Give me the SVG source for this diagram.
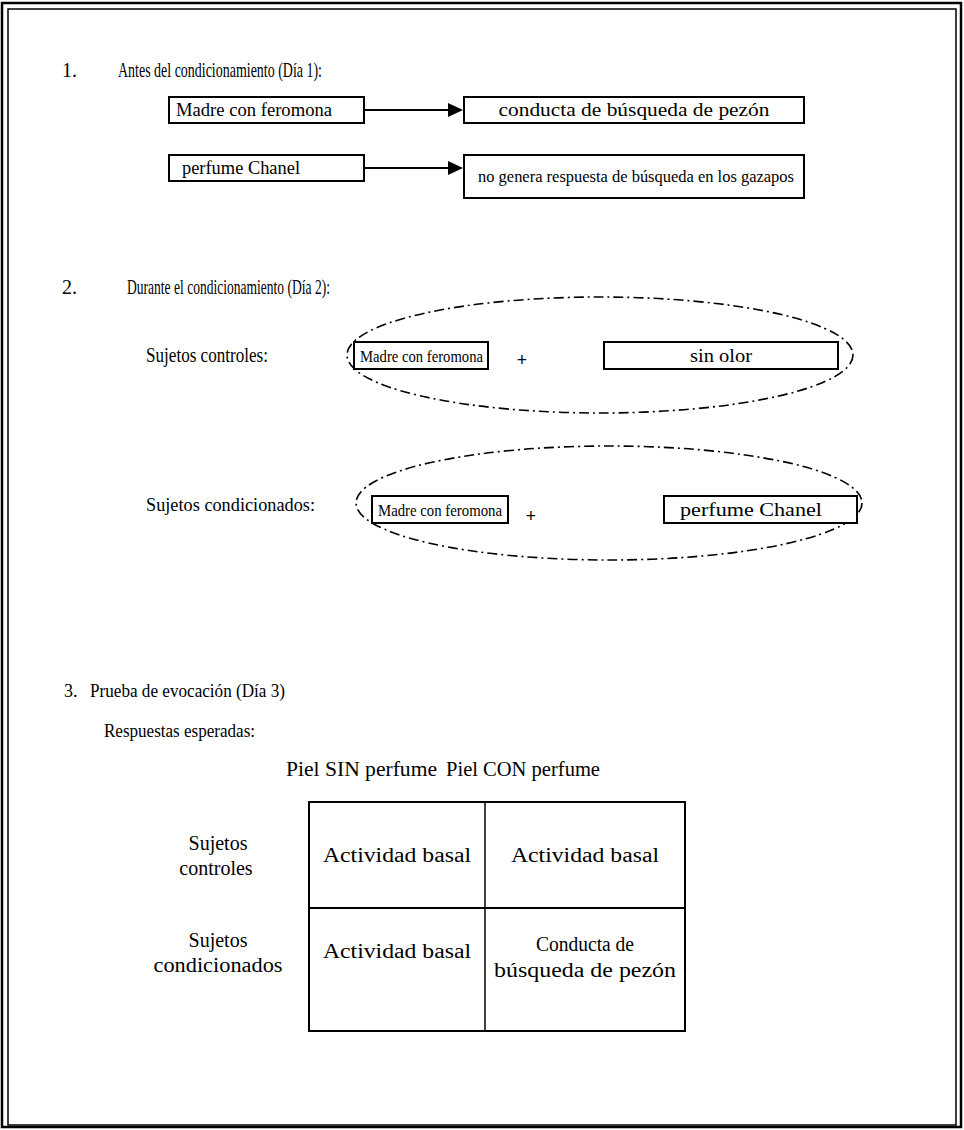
<svg xmlns="http://www.w3.org/2000/svg" width="964" height="1130" viewBox="0 0 964 1130">
<style>
text{font-family:"Liberation Serif","Times New Roman",serif;fill:#000;}
.h{font-size:18px;}
.t{font-size:20px;}
.tt{font-size:22px;}
.b{font-size:18px;}
.box{fill:#fff;stroke:#000;stroke-width:2;}
.ell{fill:none;stroke:#000;stroke-width:1.6;stroke-dasharray:10 4 2 4;}
.ln{stroke:#000;stroke-width:2;fill:none;}
.c{text-anchor:middle;}
.plus{font-size:18px;font-weight:bold;text-anchor:middle;}
</style>
<rect x="0" y="0" width="964" height="1130" fill="#fff"/>
<g id="frame">
<rect x="2" y="3" width="959" height="1124" fill="none" stroke="#000" stroke-width="2.5"/>
<rect x="8" y="9" width="948" height="1116" fill="none" stroke="#000" stroke-width="1.5"/>
</g>
<g id="titles">
<text class="t" x="62" y="77">1.</text>
<text class="tt" x="118" y="77" textLength="204" lengthAdjust="spacingAndGlyphs">Antes del condicionamiento (Día 1):</text>
<text class="t" x="62" y="294">2.</text>
<text class="tt" x="127" y="294" textLength="203" lengthAdjust="spacingAndGlyphs">Durante el condicionamiento (Día 2):</text>
<text class="t" x="146" y="362" textLength="122" lengthAdjust="spacingAndGlyphs">Sujetos controles:</text>
<text class="h" x="146" y="511" textLength="169" lengthAdjust="spacingAndGlyphs">Sujetos condicionados:</text>
<text class="h" x="64" y="697">3.</text>
<text class="h" x="90" y="697" textLength="195" lengthAdjust="spacingAndGlyphs">Prueba de evocación (Día 3)</text>
<text class="h" x="104" y="737" textLength="151" lengthAdjust="spacingAndGlyphs">Respuestas esperadas:</text>
</g>
<g id="connectors">
<line class="ln" x1="364" y1="110" x2="450" y2="110"/>
<polygon points="448,103 463,110 448,117" fill="#000"/>
<line class="ln" x1="364" y1="168" x2="450" y2="168"/>
<polygon points="448,161 463,168 448,175" fill="#000"/>
</g>
<g id="n-madre1">
<rect class="box" x="169" y="97" width="195" height="26"/>
<text class="b" x="176" y="116" textLength="156" lengthAdjust="spacingAndGlyphs">Madre con feromona</text>
</g>
<g id="n-conducta1">
<rect class="box" x="464" y="97" width="340" height="26"/>
<text class="b c" x="634" y="116" font-size="19" textLength="271" lengthAdjust="spacingAndGlyphs">conducta de búsqueda de pezón</text>
</g>
<g id="n-chanel1">
<rect class="box" x="169" y="155" width="195" height="26"/>
<text class="b" x="182" y="174" textLength="118" lengthAdjust="spacingAndGlyphs">perfume Chanel</text>
</g>
<g id="n-nogenera">
<rect class="box" x="464" y="155" width="340" height="43"/>
<text x="478" y="182" font-size="16" textLength="316" lengthAdjust="spacingAndGlyphs">no genera respuesta de búsqueda en los gazapos</text>
</g>
<g id="g-controles">
<ellipse class="ell" cx="600" cy="355" rx="253" ry="58"/>
<rect class="box" x="354" y="342" width="134" height="27"/>
<text x="360" y="362" font-size="17" textLength="123" lengthAdjust="spacingAndGlyphs">Madre con feromona</text>
<text class="plus" x="522" y="366">+</text>
<rect class="box" x="604" y="342" width="234" height="27"/>
<text class="c" x="721" y="362" font-size="19" textLength="62" lengthAdjust="spacingAndGlyphs">sin olor</text>
</g>
<g id="g-condicionados">
<ellipse class="ell" cx="609" cy="503" rx="253" ry="57"/>
<rect class="box" x="372" y="496" width="136" height="27"/>
<text x="378" y="516" font-size="17" textLength="124" lengthAdjust="spacingAndGlyphs">Madre con feromona</text>
<text class="plus" x="531" y="522">+</text>
<rect class="box" x="664" y="496" width="193" height="27"/>
<text x="680" y="516" font-size="19" textLength="142" lengthAdjust="spacingAndGlyphs">perfume Chanel</text>
</g>
<g id="table">
<text class="t" x="286" y="776" textLength="151" lengthAdjust="spacingAndGlyphs">Piel SIN perfume</text>
<text class="t" x="446" y="776" textLength="154" lengthAdjust="spacingAndGlyphs">Piel CON perfume</text>
<rect x="309" y="802" width="376" height="229" fill="none" stroke="#000" stroke-width="2"/>
<line x1="485" y1="802" x2="485" y2="1031" stroke="#000" stroke-width="1.5"/>
<line x1="309" y1="908" x2="685" y2="908" stroke="#000" stroke-width="2"/>
<text class="t c" x="218" y="850">Sujetos</text>
<text class="t c" x="216" y="875">controles</text>
<text class="t c" x="218" y="947">Sujetos</text>
<text class="t c" x="218" y="972" textLength="129" lengthAdjust="spacingAndGlyphs">condicionados</text>
<text class="t c" x="397" y="862" textLength="148" lengthAdjust="spacingAndGlyphs">Actividad  basal</text>
<text class="t c" x="585" y="862" textLength="148" lengthAdjust="spacingAndGlyphs">Actividad  basal</text>
<text class="t c" x="397" y="958" textLength="148" lengthAdjust="spacingAndGlyphs">Actividad  basal</text>
<text class="t c" x="585" y="951" textLength="98" lengthAdjust="spacingAndGlyphs">Conducta de</text>
<text class="t c" x="585" y="977" textLength="182" lengthAdjust="spacingAndGlyphs">búsqueda de pezón</text>
</g>
</svg>
